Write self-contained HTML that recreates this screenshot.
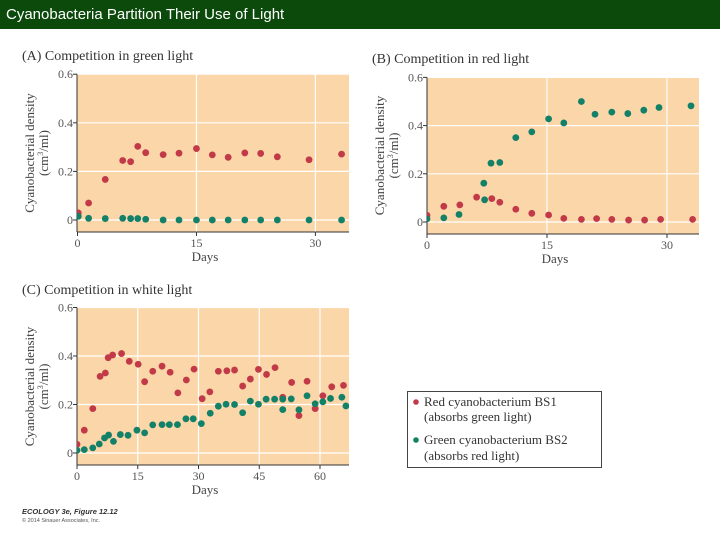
<!DOCTYPE html>
<html><head><meta charset="utf-8"><style>
body{margin:0;background:#fff;width:720px;height:540px;overflow:hidden}
svg text{font-family:"Liberation Serif",serif}
</style></head><body>
<svg id="chart" width="720" height="540" xmlns="http://www.w3.org/2000/svg">
<rect x="0" y="0" width="720" height="29" fill="#0b4a0b"/>
<text x="6" y="19" fill="#fff" font-size="15" style="font-family:'Liberation Sans',sans-serif">Cyanobacteria Partition Their Use of Light</text>
<g>
<rect x="407.5" y="391.5" width="194" height="76" fill="#fff" stroke="#444" stroke-width="1"/>
<circle cx="416" cy="402" r="2.8" fill="#c23a48"/>
<text x="424" y="406" font-size="13" fill="#333">Red cyanobacterium BS1</text>
<text x="424" y="421" font-size="13" fill="#333">(absorbs green light)</text>
<circle cx="416" cy="440" r="2.8" fill="#138068"/>
<text x="424" y="444" font-size="13" fill="#333">Green cyanobacterium BS2</text>
<text x="424" y="460" font-size="13" fill="#333">(absorbs red light)</text>
</g>
<text x="22" y="514" font-size="7.5" font-weight="bold" font-style="italic" fill="#333" style="font-family:'Liberation Sans',sans-serif">ECOLOGY 3e, Figure 12.12</text>
<text x="22" y="522" font-size="5.5" fill="#555" style="font-family:'Liberation Sans',sans-serif">© 2014 Sinauer Associates, Inc.</text>
</svg>
<script>
const aDaysRed=[0.1,1.4,3.5,5.7,6.7,7.6,8.6,10.8,12.8,15,17,19,21.1,23.1,25.2,29.2,33.3];
const aRed=[0.029,0.070,0.167,0.245,0.240,0.303,0.277,0.269,0.275,0.294,0.268,0.258,0.276,0.274,0.260,0.248,0.271];
const aDaysGreen=[0.1,1.4,3.5,5.7,6.7,7.6,8.6,10.8,12.8,15,17,19,21.1,23.1,25.2,29.2,33.3];
const aGreen=[0.015,0.007,0.006,0.007,0.006,0.006,0.003,0,0,0,0,0,0,0,0,0,0];
const bDaysGreen=[0,2.1,4,7.1,7.2,8.0,9.1,11.1,13.1,15.2,17.1,19.3,21,23.1,25.1,27.1,29,33];
const bGreen=[0.013,0.017,0.031,0.161,0.092,0.244,0.247,0.35,0.374,0.428,0.411,0.5,0.447,0.456,0.45,0.464,0.475,0.482];
const bDaysRed=[0,2.1,4.1,6.2,8.1,9.1,11.1,13.1,15.2,17.1,19.3,21.2,23.1,25.2,27.2,29.2,33.2];
const bRed=[0.028,0.065,0.071,0.103,0.097,0.082,0.053,0.036,0.029,0.015,0.011,0.014,0.011,0.008,0.008,0.011,0.011];
const cDaysRed=[0,1.8,3.9,5.7,7,7.7,8.8,11,12.9,15.1,16.7,18.7,21,23,24.9,27,28.9,30.9,32.8,34.9,37,38.9,40.9,42.8,44.8,46.8,48.9,50.8,53,54.8,56.8,58.8,60.7,62.9,65.8];
const cRed=[0.036,0.094,0.183,0.316,0.330,0.393,0.404,0.410,0.378,0.366,0.294,0.337,0.358,0.333,0.248,0.301,0.346,0.224,0.252,0.337,0.339,0.342,0.276,0.305,0.345,0.324,0.352,0.230,0.291,0.154,0.296,0.183,0.236,0.273,0.279];
const cDaysGreen=[0,1.8,3.9,5.5,6.8,7.8,9,10.7,12.6,14.8,16.7,18.7,21,22.8,24.8,26.9,28.7,30.7,32.9,34.9,36.8,38.9,40.9,42.8,44.8,46.7,48.8,50.8,50.8,52.9,54.8,56.8,58.8,60.7,62.6,65.4,66.4];
const cGreen=[0.011,0.014,0.021,0.037,0.062,0.074,0.048,0.076,0.073,0.094,0.083,0.116,0.117,0.117,0.117,0.141,0.141,0.121,0.164,0.193,0.201,0.200,0.166,0.214,0.201,0.222,0.222,0.179,0.222,0.223,0.178,0.236,0.203,0.211,0.225,0.230,0.194];
const yTicks=[0,0.2,0.4,0.6];
const yTickLabels=["0","0.2","0.4","0.6"];
const abXTicks=[0,15,30];
const cXTicks=[0,15,30,45,60];

const svg=document.getElementById('chart');
const NS='http://www.w3.org/2000/svg';
function mk(tag,attrs,parent){const e=document.createElementNS(NS,tag);for(const k in attrs)e.setAttribute(k,attrs[k]);(parent||svg).appendChild(e);return e;}

function panel(key,title,L,R,T,B,x0,ppd,y0,ppv,xTicks,series){
  const g=mk('g',{});
  
  
  const xs=d=>x0+d*ppd, ys=v=>y0-v*ppv;
  const bg=mk('rect',{x:L,y:T,width:R-L,height:B-T,fill:'#fbd6a8'},g);
  
  
  const clipId='clip'+key;
  const cp=mk('clipPath',{id:clipId},g);mk('rect',{x:L,y:T,width:R-L,height:B-T},cp);
  yTicks.forEach((v,i)=>{
    if(v>0){const gl=mk('line',{x1:L,x2:R,y1:ys(v),y2:ys(v),stroke:'#fff','stroke-width':1.2},g);
      }
    else{mk('line',{x1:L,x2:R,y1:ys(v),y2:ys(v),stroke:'#fff','stroke-width':1.2},g);}
    mk('line',{x1:L-4,x2:L,y1:ys(v),y2:ys(v),stroke:'#333','stroke-width':1},g);
    const t=mk('text',{x:L-4,y:ys(v)+4,'text-anchor':'end','font-size':12,fill:'#555'},g);
    t.textContent=yTickLabels[i];
    
  });
  xTicks.forEach(d=>{
    if(d>0){const gl=mk('line',{x1:xs(d),x2:xs(d),y1:T,y2:B,stroke:'#fff','stroke-width':1.2},g);
      }
    mk('line',{x1:xs(d),x2:xs(d),y1:B,y2:B+4,stroke:'#333','stroke-width':1},g);
    const t=mk('text',{x:xs(d),y:B+15,'text-anchor':'middle','font-size':12,fill:'#555'},g);
    t.textContent=d;
    
  });
  mk('line',{x1:L,x2:L,y1:ys(0.6),y2:B,stroke:'#333','stroke-width':1},g);
  mk('line',{x1:L,x2:R,y1:B,y2:B,stroke:'#333','stroke-width':1},g);
  const tt=mk('text',{x:L-55,y:T-14,'font-size':14,fill:'#333'},g);tt.textContent=title;
  
  const xl=mk('text',{x:(L+R)/2-8,y:B+29,'text-anchor':'middle','font-size':13,fill:'#444'},g);xl.textContent='Days';
  
  const cy=(T+B)/2;
  const yl=mk('text',{transform:`translate(${L-43},${cy}) rotate(-90)`,'text-anchor':'middle','font-size':13,fill:'#444'},g);
  yl.textContent='Cyanobacterial density';
  
  const yl2=mk('text',{transform:`translate(${L-29},${cy}) rotate(-90)`,'text-anchor':'middle','font-size':13,fill:'#444'},g);
  yl2.innerHTML='(cm<tspan font-size="8" dy="-5">3</tspan><tspan dy="5">/ml)</tspan>';
  
  const pg=mk('g',{'clip-path':`url(#${clipId})`},g);
  series.forEach(s=>{
    s.days.forEach((d,i)=>{
      const c=mk('circle',{cx:xs(d),cy:ys(s.vals[i]),r:3.4,fill:s.color},pg);
      
      
    });
  });
}
const RED='#c23a48',GREEN='#138068';
panel('a','(A)  Competition in green light',77,349,74,232,77.5,7.93,220,243,abXTicks,
  [{days:aDaysRed,vals:aRed,color:RED,name:'red-bs1'},{days:aDaysGreen,vals:aGreen,color:GREEN,name:'green-bs2'}]);
panel('b','(B)  Competition in red light',427,699,77,234,427,8.0,222,241,abXTicks,
  [{days:bDaysRed,vals:bRed,color:RED,name:'red-bs1'},{days:bDaysGreen,vals:bGreen,color:GREEN,name:'green-bs2'}]);
panel('c','(C)  Competition in white light',77,349,308,465,77,4.05,453,242.5,cXTicks,
  [{days:cDaysRed,vals:cRed,color:RED,name:'red-bs1'},{days:cDaysGreen,vals:cGreen,color:GREEN,name:'green-bs2'}]);
</script>
</body></html>
